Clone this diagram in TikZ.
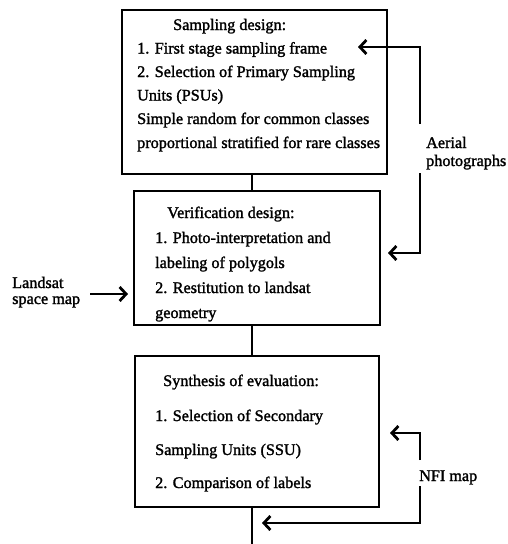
\documentclass[tikz,border=0pt]{standalone}
\usepackage{fontspec}
\setmainfont{Liberation Serif}[FakeBold=1.6]
\usetikzlibrary{arrows.meta}
\newcommand{\fs}{\fontsize{16.2}{19}\selectfont}
\begin{document}
\begin{tikzpicture}[x=1pt,y=-1pt,
  box/.style={draw, line width=2.8pt, inner sep=0pt},
  conn/.style={line width=2.8pt},
  arr/.style={conn, -{Straight Barb[length=6.5pt,width=14pt,line width=2.8pt]}},
  txt/.style={anchor=base west, inner sep=0pt, font=\fs},
]
\useasboundingbox (0,0) rectangle (508,544);
% boxes
\node[box, minimum width=265pt, minimum height=164pt] (b1) at (254.5,92) {};
\node[box, minimum width=246pt, minimum height=134pt] (b2) at (257,258) {};
\node[box, minimum width=244pt, minimum height=151pt] (b3) at (257,431.5) {};
% box 1 text
\node[txt] (s0) at (173,30) {Sampling design:};
\node[txt] (s1) at (137,53.5) {1. First stage sampling frame};
\node[txt] (s2) at (137,77) {2. Selection of Primary Sampling};
\node[txt] (s3) at (137,100.5) {Units (PSUs)};
\node[txt] (s4) at (137,124) {Simple random for common classes};
\node[txt] (s5) at (137,148) {proportional stratified for rare classes};
% box 2 text
\node[txt] (v0) at (167,218) {Verification design:};
\node[txt] (v1) at (155,243) {1. Photo-interpretation and};
\node[txt] (v2) at (155,268) {labeling of polygols};
\node[txt] (v3) at (155,293) {2. Restitution to landsat};
\node[txt] (v4) at (155,318) {geometry};
% box 3 text
\node[txt] (e0) at (163,386) {Synthesis of evaluation:};
\node[txt] (e1) at (155,421) {1. Selection of Secondary};
\node[txt] (e2) at (155,455) {Sampling Units (SSU)};
\node[txt] (e3) at (155,488) {2. Comparison of labels};
% side labels
\node[txt] (aer1) at (426,148) {Aerial};
\node[txt] (aer2) at (426,166) {photographs};
\node[txt] (ls1) at (12,288) {Landsat};
\node[txt] (ls2) at (12,304) {space map};
\node[txt] (nfi) at (419,481) {NFI map};
% coordinates
\coordinate (cx) at (252,0);
\coordinate (endb) at (252,544);
\coordinate (ga1) at (420,124);
\coordinate (ga2) at (420,173);
\coordinate (ta1) at (358,47);
\coordinate (ta2) at (388,253);
\coordinate (gn1) at (420,460);
\coordinate (gn2) at (420,486);
\coordinate (tn1) at (390,433);
\coordinate (tn2) at (262,523);
\coordinate (lsa) at (90,294);
\coordinate (lst) at (128,294);
% connectors
\draw[conn] (b1.south -| cx) -- (b2.north -| cx);
\draw[conn] (b2.south -| cx) -- (b3.north -| cx);
\draw[conn] (b3.south -| cx) -- (endb);
\draw[arr] (ga1) |- (ta1);
\draw[arr] (ga2) |- (ta2);
\draw[arr] (gn1) |- (tn1);
\draw[arr] (gn2) |- (tn2);
\draw[arr] (lsa) -- (lst);
\end{tikzpicture}
\end{document}
